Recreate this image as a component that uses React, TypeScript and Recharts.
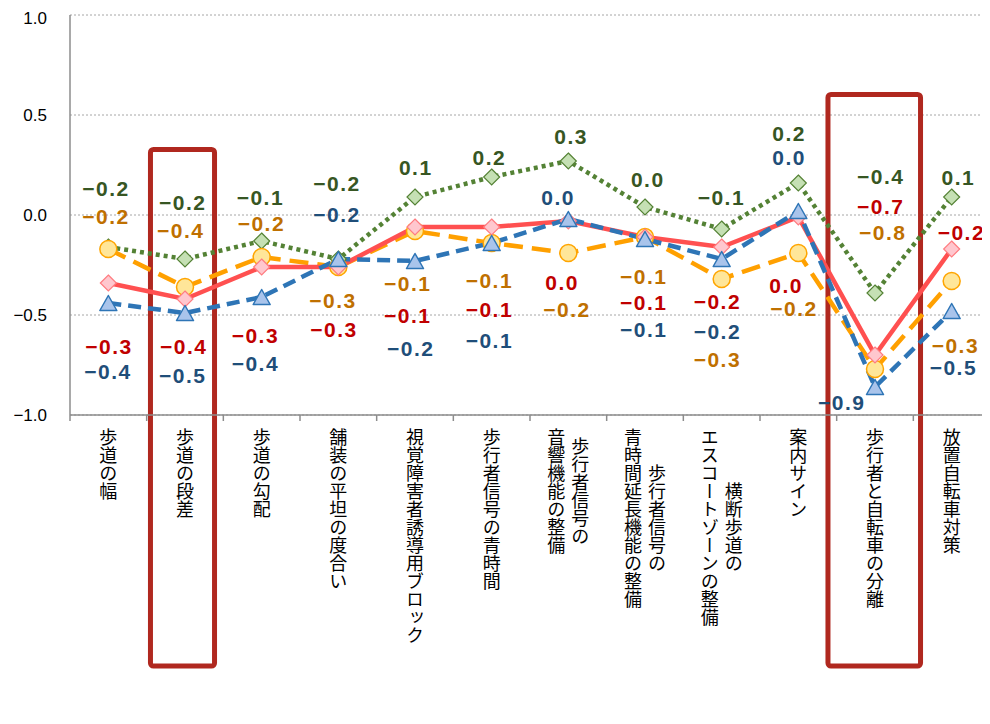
import React from 'react';
import { LineChart, Line, XAxis, YAxis, CartesianGrid, ReferenceArea, LabelList } from 'recharts';

const categories = [
  '歩道の幅',
  '歩道の段差',
  '歩道の勾配',
  '舗装の平坦の度合い',
  '視覚障害者誘導用ブロック',
  '歩行者信号の青時間',
  '歩行者信号の\n音響機能の整備',
  '歩行者信号の\n青時間延長機能の整備',
  '横断歩道の\nエスコートゾーンの整備',
  '案内サイン',
  '歩行者と自転車の分離',
  '放置自転車対策',
];

const seriesGreen = [-0.16, -0.22, -0.13, -0.22, 0.09, 0.19, 0.27, 0.04, -0.07, 0.16, -0.39, 0.09];
const seriesRed = [-0.34, -0.42, -0.26, -0.26, -0.06, -0.06, -0.03, -0.11, -0.16, -0.01, -0.7, -0.17];
const seriesOrange = [-0.17, -0.36, -0.21, -0.26, -0.08, -0.14, -0.19, -0.11, -0.32, -0.19, -0.77, -0.33];
const seriesBlue = [-0.44, -0.49, -0.41, -0.22, -0.23, -0.14, -0.02, -0.12, -0.22, 0.02, -0.86, -0.48];

const yTicks = [-1, -0.5, 0, 0.5, 1];
const highlighted = ['歩道の段差', '歩行者と自転車の分離'];

// label placement (pixel offsets from each point)
const greenLabelDx = [-3, -3, -2, -2, 0, -3, 2, 2, -1, -10, 5, 6];
const greenLabelDy = [-59, -57, -44, -76, -30, -20, -25, -28, -32, -50, -117, -20];
const redLabelDx = [0, -2, -7, -5, -8, -3, -7, -2, -5, -13, 5, 9];
const redLabelDy = [63, 47, 68, 62, 88, 82, 61, 65, 54, 68, -149, -17];
const orangeLabelDx = [-3, -5, -1, -6, -8, -3, -2, -2, -5, -5, 7, 3];
const orangeLabelDy = [-33, -57, -34, 33, 52, 37, 56, 39, 80, 55, -137, 64];
const blueLabelDx = [-1, -3, -7, -2, -5, -3, -11, -2, -5, -10, -34, 1];
const blueLabelDy = [68, 62, 66, -45, 87, 97, -22, 90, 72, -54, 15, 56];

const data = categories.map((name, i) => ({
  name,
  g: seriesGreen[i],
  r: seriesRed[i],
  o: seriesOrange[i],
  b: seriesBlue[i],
}));

const CHART_W = 982;
const CHART_H = 716;
const Y_AXIS_W = 62;
const PLOT_W = CHART_W - Y_AXIS_W;
const BAND = PLOT_W / categories.length;
const AXIS_GRAY = '#8c8c8c';
const LABEL_FONT = '"Liberation Sans", Arial, sans-serif';
const CJK_FONT = '"Noto Sans CJK JP", sans-serif';

const fmt = (v: number) => {
  const r = Math.round(v * 10) / 10;
  if (r === 0) return '0.0';
  return (r < 0 ? '\u2212' : '') + Math.abs(r).toFixed(1);
};

const yFmt = (v: number) => (v < 0 ? '\u2212' : '') + Math.abs(v).toFixed(1);

const makeLabel = (dxs: number[], dys: number[], color: string) => (props: any) => {
  const idx = props.index ?? 0;
  const px = props.x ?? props.viewBox?.x;
  const py = props.y ?? props.viewBox?.y;
  if (px == null || py == null) return null;
  return (
    <text
      x={px + dxs[idx] + 0.75}
      y={py + dys[idx]}
      textAnchor="middle"
      dominantBaseline="central"
      fontFamily={LABEL_FONT}
      fontWeight="bold"
      fontSize={21}
      letterSpacing={1.5}
      fill={color}
    >
      {fmt(Number(props.value))}
    </text>
  );
};

const diamondDot = (fill: string, stroke: string) => (props: any) => {
  const { cx, cy, index } = props;
  if (cx == null || cy == null) return <g key={`d-${index}`} />;
  const s = 8;
  return (
    <polygon
      key={`d-${index}`}
      points={`${cx},${cy - s} ${cx + s},${cy} ${cx},${cy + s} ${cx - s},${cy}`}
      fill={fill}
      stroke={stroke}
      strokeWidth={1.2}
    />
  );
};

const circleDot = (fill: string, stroke: string) => (props: any) => {
  const { cx, cy, index } = props;
  if (cx == null || cy == null) return <g key={`c-${index}`} />;
  return <circle key={`c-${index}`} cx={cx} cy={cy} r={8.5} fill={fill} stroke={stroke} strokeWidth={1.5} />;
};

const triangleDot = (fill: string, stroke: string) => (props: any) => {
  const { cx, cy, index } = props;
  if (cx == null || cy == null) return <g key={`t-${index}`} />;
  const w = 8.5;
  const h = 7.5;
  return (
    <polygon
      key={`t-${index}`}
      points={`${cx},${cy - h} ${cx + w},${cy + h} ${cx - w},${cy + h}`}
      fill={fill}
      stroke={stroke}
      strokeWidth={1.5}
      strokeLinejoin="round"
    />
  );
};

const CategoryTick = (props: any) => {
  const { x, y, payload } = props;
  const index = props.index ?? payload?.index ?? 0;
  const lines = String(payload.value).split('\n');
  const maxLen = Math.max(...lines.map((l) => Array.from(l).length));
  const fs = 18;
  const top = y + 13;
  const colGap = 24;
  const n = lines.length;
  return (
    <g>
      <line x1={x - BAND / 2} y1={y} x2={x - BAND / 2} y2={y + 6} stroke={AXIS_GRAY} strokeWidth={1.5} />
      {index === categories.length - 1 && (
        <line x1={x + BAND / 2} y1={y} x2={x + BAND / 2} y2={y + 6} stroke={AXIS_GRAY} strokeWidth={1.5} />
      )}
      {lines.map((ln, j) => {
        const cx = x + ((n - 1) / 2 - j) * colGap;
        const ty = top + ((maxLen - Array.from(ln).length) * fs) / 2;
        return (
          <text
            key={j}
            x={cx}
            y={ty}
            style={{ writingMode: 'vertical-rl' as any }}
            fontFamily={CJK_FONT}
            fontSize={fs}
            fill="#000"
          >
            {ln}
          </text>
        );
      })}
    </g>
  );
};

// the area is anchored on a category point; extend it to the category band
const highlightShape = (insetLeft: number, insetRight: number) => (props: any) => {
  const { x, y, width, height } = props;
  const center = x + (width || 0) / 2;
  const left = center - BAND / 2 + insetLeft;
  return (
    <rect
      x={left}
      y={y}
      width={BAND - insetLeft - insetRight}
      height={height}
      fill="none"
      stroke="#B0281F"
      strokeWidth={5}
      rx={3}
      ry={3}
    />
  );
};

export default function App() {
  return (
    <div style={{ width: CHART_W, height: CHART_H }}>
      <LineChart
        width={CHART_W}
        height={CHART_H}
        data={data}
        margin={{ top: 7, right: 0, left: 0, bottom: 0 }}
      >
        <CartesianGrid vertical={false} stroke="#a6a6a6" strokeDasharray="2 2" />
        <XAxis
          dataKey="name"
          interval={0}
          height={CHART_H - 7 - 400}
          padding={{ left: BAND / 2, right: BAND / 2 }}
          tick={<CategoryTick />}
          tickLine={false}
          tickSize={0}
          tickMargin={0}
          axisLine={{ stroke: AXIS_GRAY, strokeWidth: 1.5 }}
        />
        <YAxis
          domain={[-1, 1]}
          ticks={yTicks}
          tickFormatter={yFmt}
          width={Y_AXIS_W}
          tickLine={false}
          tickSize={0}
          tickMargin={23}
          tick={{ fontSize: 17, fill: '#000', fontFamily: LABEL_FONT }}
          axisLine={{ stroke: AXIS_GRAY, strokeWidth: 1.5 }}
          allowDataOverflow
        />
        <Line
          dataKey="g"
          stroke="#548235"
          strokeWidth={4.5}
          strokeDasharray="4 4"
          dot={diamondDot('#C5E0B4', '#548235')}
          activeDot={false}
          isAnimationActive={false}
        >
          <LabelList dataKey="g" content={makeLabel(greenLabelDx, greenLabelDy, '#375623')} />
        </Line>
        <Line
          dataKey="o"
          stroke="#FFA000"
          strokeWidth={4.5}
          strokeDasharray="19 9"
          dot={circleDot('#FFE699', '#FFA500')}
          activeDot={false}
          isAnimationActive={false}
        >
          <LabelList dataKey="o" content={makeLabel(orangeLabelDx, orangeLabelDy, '#BF7000')} />
        </Line>
        <Line
          dataKey="r"
          stroke="#FF5050"
          strokeWidth={4.5}
          dot={diamondDot('#FFC7CE', '#FF7C80')}
          activeDot={false}
          isAnimationActive={false}
        >
          <LabelList dataKey="r" content={makeLabel(redLabelDx, redLabelDy, '#C00000')} />
        </Line>
        <Line
          dataKey="b"
          stroke="#2E75B6"
          strokeWidth={4.5}
          strokeDasharray="13 7"
          dot={triangleDot('#A9C4EB', '#2E75B6')}
          activeDot={false}
          isAnimationActive={false}
        >
          <LabelList dataKey="b" content={makeLabel(blueLabelDx, blueLabelDy, '#1F4E79')} />
        </Line>
        <ReferenceArea
          x1={highlighted[0]}
          x2={highlighted[0]}
          y1={0.3275}
          y2={-2.255}
          ifOverflow="visible"
          shape={highlightShape(3.8, 8.8)}
        />
        <ReferenceArea
          x1={highlighted[1]}
          x2={highlighted[1]}
          y1={0.6025}
          y2={-2.255}
          ifOverflow="visible"
          shape={highlightShape(-8.7, -7.2)}
        />
      </LineChart>
    </div>
  );
}
